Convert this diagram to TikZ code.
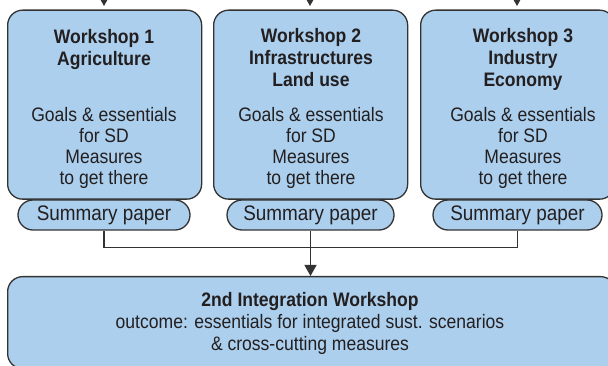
\documentclass[tikz,border=0pt]{standalone}
\usepackage{fontspec}
\setmainfont{Liberation Sans}[FakeStretch=0.9]
\usetikzlibrary{arrows.meta}
\definecolor{boxfill}{RGB}{171,207,237}
\definecolor{edgec}{RGB}{51,51,51}
\definecolor{ink}{RGB}{35,31,32}
\begin{document}
\begin{tikzpicture}[x=1pt,y=-1pt,
  wsbox/.style={draw=edgec, fill=boxfill, line width=1.3pt, rounded corners=15pt,
    anchor=north west, inner sep=0pt, minimum height=189pt, minimum width=194pt},
  pill/.style={draw=edgec, fill=boxfill, line width=1.3pt, rounded corners=15pt,
    inner sep=0pt, minimum height=30pt, text=ink, font=\fontsize{21}{23}\selectfont},
  ttl/.style={anchor=base, align=center, inner sep=0pt, text=ink,
    font=\bfseries\fontsize{19.5}{22}\selectfont},
  body/.style={anchor=base, align=center, inner sep=0pt, text=ink,
    font=\fontsize{19.5}{21.3}\selectfont},
  conn/.style={draw=edgec, line width=1.2pt},
  arr/.style={conn, -{Triangle[width=12pt,length=11pt]}}
]
\useasboundingbox (0,0) rectangle (608,366);
\clip (0,0) rectangle (608,366);

% workshop boxes
\node[wsbox] (w1) at (7,9.5) {};
\node[wsbox] (w2) at (213,9.5) {};
\node[wsbox] (w3) at (420,9.5) {};

% incoming arrows
\coordinate (t1) at (104,-12);
\coordinate (t2) at (310,-12);
\coordinate (t3) at (517,-12);
\draw[arr, shorten >=3.5pt] (t1) -- (t1 |- w1.north);
\draw[arr, shorten >=3.5pt] (t2) -- (t2 |- w2.north);
\draw[arr, shorten >=3.5pt] (t3) -- (t3 |- w3.north);

% titles and bodies (base = baseline of last line)
\node[ttl] (h1) at (104,65.5) {Workshop 1\\Agriculture};
\node[ttl] (h2) at (311,87) {Workshop 2\\Infrastructures\\Land use};
\node[ttl] (h3) at (523,87) {Workshop 3\\Industry\\Economy};
\node[body] (b1) at (104,185) {Goals \& essentials\\for SD\\Measures\\to get there};
\node[body] (b2) at (311,185) {Goals \& essentials\\for SD\\Measures\\to get there};
\node[body] (b3) at (523,185) {Goals \& essentials\\for SD\\Measures\\to get there};

% summary papers
\node[pill, minimum width=172pt] (p1) at (104,215) {Summary paper};
\node[pill, minimum width=167pt] (p2) at (310.5,215) {Summary paper};
\node[pill, minimum width=169pt] (p3) at (517.5,215) {Summary paper};

% integration workshop
\node[draw=edgec, fill=boxfill, line width=1.3pt, rounded corners=15pt,
  anchor=north west, inner sep=0pt, minimum width=608pt, minimum height=92pt] (iw) at (7,276) {};
\node[ttl] (ih) at (310,306) {2nd Integration Workshop};
\node[body] (ib) at (310,350) {outcome: essentials for integrated sust. scenarios\\\& cross-cutting measures};

% connectors
\draw[conn] (p1.south) -- ++(0,17) -| (p3.south);
\draw[arr] (p2.south) -- (p2.south |- iw.north);
\end{tikzpicture}
\end{document}
